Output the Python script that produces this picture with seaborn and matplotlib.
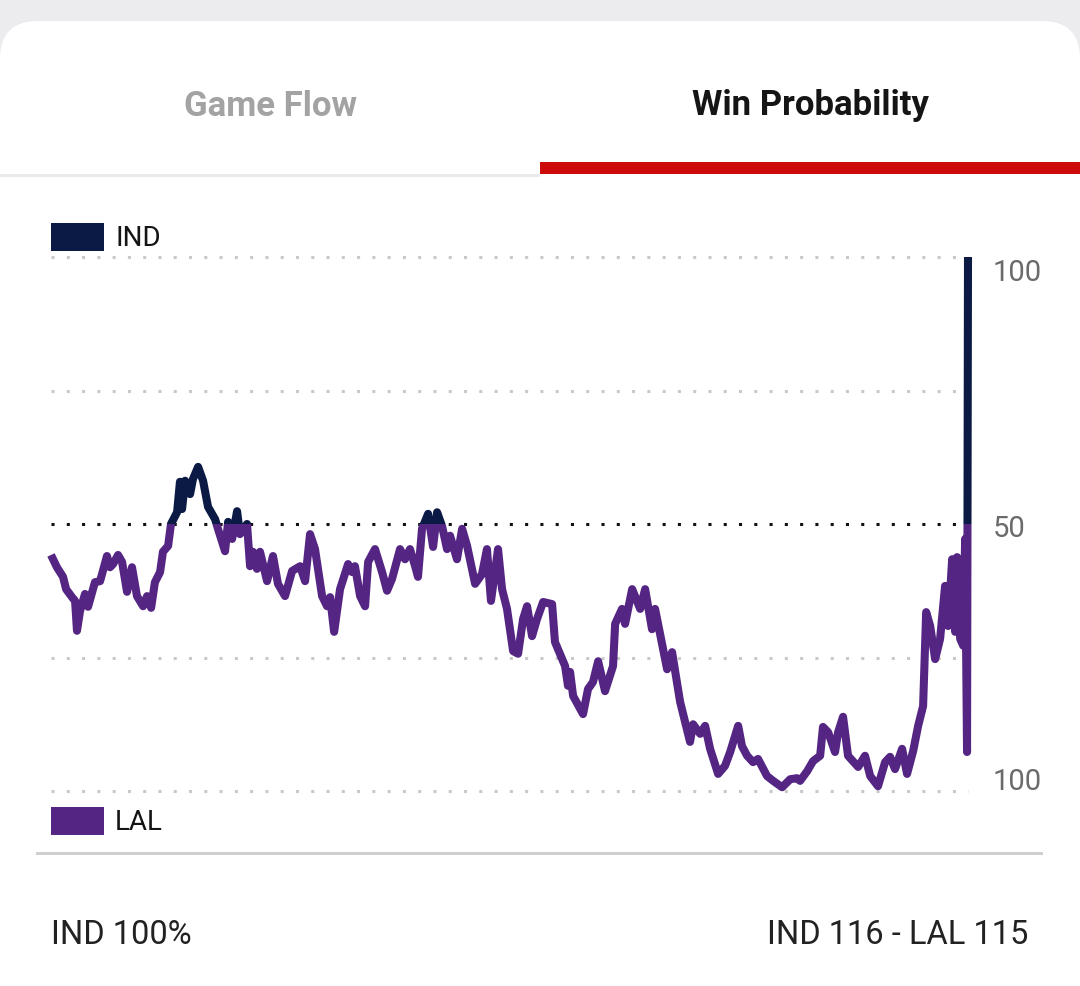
import matplotlib
matplotlib.use("Agg")
import matplotlib.pyplot as plt
from matplotlib.patches import Rectangle, FancyBboxPatch
import seaborn as sns
import pandas as pd

# --- datos (minuto de juego, prob. de victoria IND en %) ---
minutes = [0.00, 0.31, 0.63, 0.79, 1.10, 1.26, 1.36, 1.52, 1.78, 1.94,
           2.30, 2.57, 2.93, 3.09, 3.25, 3.51, 3.72, 3.98, 4.24, 4.50,
           4.82, 5.03, 5.24, 5.44, 5.71, 5.86, 6.13, 6.28, 6.60, 6.75,
           6.86, 7.02, 7.28, 7.43, 7.70, 7.96, 8.22, 8.59, 8.74, 9.11,
           9.27, 9.48, 9.74, 9.89, 10.26, 10.42, 10.57, 10.78, 10.94, 11.31,
           11.62, 11.88, 12.25, 12.62, 13.04, 13.30, 13.56, 13.82, 14.19, 14.45,
           14.61, 14.82, 15.13, 15.55, 15.76, 15.91, 16.18, 16.44, 16.60, 16.96,
           17.33, 17.59, 17.85, 18.27, 18.53, 18.79, 19.06, 19.21, 19.42, 19.74,
           20.00, 20.21, 20.47, 20.73, 20.89, 21.25, 21.52, 21.78, 22.20, 22.56,
           22.82, 23.03, 23.40, 23.61, 23.87, 24.19, 24.45, 24.71, 24.92, 25.18,
           25.44, 25.76, 26.23, 26.38, 26.91, 27.06, 27.17, 27.33, 27.85, 28.11,
           28.37, 28.64, 29.00, 29.42, 29.53, 29.89, 30.05, 30.42, 30.84, 31.10,
           31.46, 31.62, 32.25, 32.51, 32.93, 33.45, 33.61, 33.98, 34.24, 34.50,
           34.92, 35.28, 35.55, 35.97, 36.17, 36.44, 36.75, 37.01, 37.48, 37.80,
           38.27, 38.69, 39.05, 39.21, 39.58, 39.89, 40.26, 40.41, 40.68, 41.04,
           41.20, 41.46, 41.72, 42.25, 42.61, 42.88, 43.29, 43.66, 43.92, 44.18,
           44.55, 44.81, 45.13, 45.39, 45.65, 45.81, 46.02, 46.28, 46.54, 46.80,
           46.96, 47.17, 47.33, 47.43, 47.59, 47.75, 47.85, 47.95, 48.00]
ind_prob = [44.2, 41.9, 40.1, 37.8, 36.3, 35.6, 30.0, 33.7, 36.9, 34.5,
            39.1, 39.3, 44.0, 41.9, 42.5, 44.2, 42.9, 37.3, 41.9, 36.5,
            34.6, 36.5, 34.3, 39.1, 41.0, 44.8, 45.9, 50.0, 52.2, 57.9,
            52.8, 58.1, 55.6, 58.4, 60.7, 58.1, 53.2, 50.9, 49.1, 44.9,
            50.4, 47.2, 52.4, 48.1, 50.0, 42.1, 44.8, 41.6, 44.8, 39.3,
            44.0, 38.8, 36.5, 41.2, 42.1, 39.3, 48.1, 45.3, 36.5, 34.6,
            36.3, 29.8, 37.8, 42.5, 41.0, 42.1, 36.5, 34.6, 42.9, 45.3,
            41.0, 37.5, 39.7, 45.3, 43.4, 45.3, 42.1, 40.1, 49.1, 51.9,
            45.7, 52.2, 49.6, 45.3, 47.8, 43.4, 49.1, 45.9, 38.8, 40.6,
            45.3, 35.6, 45.3, 37.8, 34.1, 26.2, 25.7, 32.2, 34.6, 29.0,
            32.2, 35.4, 35.0, 27.9, 23.4, 19.7, 22.3, 17.8, 14.4, 19.1,
            20.4, 24.3, 18.7, 23.4, 31.3, 34.1, 31.3, 37.8, 34.1, 37.8,
            30.3, 34.1, 22.8, 26.0, 16.7, 9.2, 12.5, 10.7, 12.2, 7.9,
            3.2, 4.7, 7.3, 12.2, 8.4, 6.6, 5.4, 6.0, 2.8, 1.9,
            0.7, 2.2, 2.4, 1.9, 3.7, 5.6, 6.6, 12.0, 11.0, 7.3,
            11.0, 13.9, 6.6, 4.5, 6.6, 2.8, 0.9, 5.4, 6.4, 4.1,
            7.9, 3.2, 7.5, 12.2, 15.9, 33.5, 30.9, 24.7, 28.5, 38.4,
            30.9, 43.4, 29.8, 43.8, 28.5, 27.2, 47.2, 7.3, 100.0]

gridlevels = [100, 75, 25, 0]
right_labels = ["100", "50", "100"]
teams = ["IND", "LAL"]
footer_left = "IND 100%"
footer_right = "IND 116 - LAL 115"

IND_COLOR = "#0b1a45"
LAL_COLOR = "#552583"

df = pd.DataFrame({"minute": minutes, "prob": ind_prob})

sns.set_theme(style="white")
plt.rcParams["font.family"] = ["Roboto", "DejaVu Sans"]

W, H = 1080, 987
fig = plt.figure(figsize=(W / 100, H / 100), dpi=100)
fig.patch.set_facecolor("#ececee")

def fx(x):
    return x / W

def fy(y):
    return 1 - y / H

# tarjeta blanca con esquinas redondeadas (detrás de todo)
card = FancyBboxPatch((0, -1), W / 100, (H - 22) / 100 + 1,
                      boxstyle="round,pad=0,rounding_size=0.38",
                      transform=fig.dpi_scale_trans, facecolor="white",
                      edgecolor="none", zorder=-5)
fig.patches.append(card)

# pestañas
fig.text(fx(270), fy(106), "Game Flow", ha="center", va="center",
         fontsize=25, fontweight="bold", color="#a3a3a3")
fig.text(fx(810), fy(106), "Win Probability", ha="center", va="center",
         fontsize=25, fontweight="bold", color="#151515")
fig.patches.append(Rectangle((fx(0), fy(178)), fx(540), 3 / H,
                             transform=fig.transFigure, facecolor="#eaeaea",
                             edgecolor="none"))
fig.patches.append(Rectangle((fx(540), fy(175)), fx(540), 12 / H,
                             transform=fig.transFigure, facecolor="#cc0a0a",
                             edgecolor="none"))

# ejes del gráfico
ax = fig.add_axes([fx(51), fy(792), (968 - 51) / W, (792 - 258) / H])
ax.set_zorder(2)
ax.set_facecolor("none")
for s in ax.spines.values():
    s.set_visible(False)

for g in gridlevels:
    ax.axhline(g, color="#c9c9c9", linewidth=2.2, linestyle=(0, (1, 4)),
               dash_capstyle="butt", zorder=1, clip_on=False)
ax.axhline(50, color="#111111", linewidth=2.2, linestyle=(0, (1, 4)),
           dash_capstyle="butt", zorder=1, clip_on=False)

# línea: azul marino por encima de 50, morado por debajo
sns.lineplot(data=df, x="minute", y="prob", sort=False, estimator=None,
             color=IND_COLOR, linewidth=5.8, ax=ax, zorder=3)
top_line = ax.lines[-1]
top_line.set_clip_path(Rectangle((-2, 50), 52, 60, transform=ax.transData))
sns.lineplot(data=df, x="minute", y="prob", sort=False, estimator=None,
             color=LAL_COLOR, linewidth=5.8, ax=ax, zorder=3)
bot_line = ax.lines[-1]
bot_line.set_clip_path(Rectangle((-2, -10), 52, 60, transform=ax.transData))
for ln in (top_line, bot_line):
    ln.set_solid_joinstyle("round")
    ln.set_solid_capstyle("butt")
ax.set_xlim(0, 48)
ax.set_ylim(0, 100)
ax.set_xticks([])
ax.set_yticks([])
ax.set_xlabel("")
ax.set_ylabel("")

# etiquetas del eje derecho (ligeramente hacia dentro en los extremos)
label_y_px = [273, 529, 782]
for lab, ypx in zip(right_labels, label_y_px):
    fig.text(fx(993), fy(ypx), lab, ha="left", va="center",
             fontsize=21, color="#6b6b6b")

# leyenda de equipos
fig.patches.append(Rectangle((fx(51), fy(252)), 53 / W, 28 / H,
                             transform=fig.transFigure, facecolor=IND_COLOR,
                             edgecolor="none"))
fig.text(fx(115), fy(239), teams[0], ha="left", va="center",
         fontsize=20, color="#151515")
fig.patches.append(Rectangle((fx(51), fy(836)), 53 / W, 28 / H,
                             transform=fig.transFigure, facecolor=LAL_COLOR,
                             edgecolor="none"))
fig.text(fx(115), fy(823), teams[1], ha="left", va="center",
         fontsize=20, color="#151515")

# separador y pie
fig.patches.append(Rectangle((fx(36), fy(856)), (1043 - 36) / W, 3 / H,
                             transform=fig.transFigure, facecolor="#cfcfcf",
                             edgecolor="none"))
fig.text(fx(51), fy(935), footer_left, ha="left", va="center",
         fontsize=23.5, color="#222222")
fig.text(fx(1028), fy(935), footer_right, ha="right", va="center",
         fontsize=23.5, color="#222222")

fig.savefig("out.png", dpi=100, facecolor=fig.get_facecolor())
